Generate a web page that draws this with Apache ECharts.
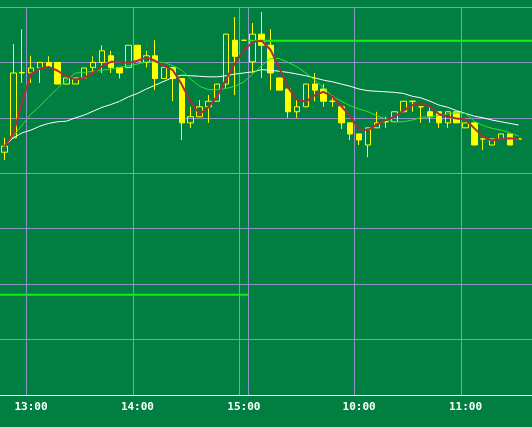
<!DOCTYPE html>
<html>
<head>
<meta charset="utf-8">
<script src="https://cdn.jsdelivr.net/npm/echarts@6/dist/echarts.min.js"></script>
<style>
  html, body { margin: 0; padding: 0; background: #007f40; }
  #chart { width: 532px; height: 427px; }
</style>
</head>
<body>
<div id="chart"></div>
<script>
// 5-minute bars, two sessions
const times = [
  '12:45', '12:50', '12:55', '13:00', '13:05', '13:10', '13:15', '13:20', '13:25', '13:30',
  '13:35', '13:40', '13:45', '13:50', '13:55', '14:00', '14:05', '14:10', '14:15', '14:20',
  '14:25', '14:30', '14:35', '14:40', '14:45', '14:50', '14:55', '15:00',
  '09:00', '09:05', '09:10', '09:15', '09:20', '09:25', '09:30', '09:35', '09:40', '09:45',
  '09:50', '09:55', '10:00', '10:05', '10:10', '10:15', '10:20', '10:25', '10:30', '10:35',
  '10:40', '10:45', '10:50', '10:55', '11:00', '11:05', '11:10', '11:15', '11:20', '11:25',
  '11:30'
]
const labelTimes = ['13:00', '14:00', '15:00', '10:00', '11:00']
const slotCount = 60

// [open, close, low, high]
const candles = [
  [2683.8, 2684.9, 2682.4, 2686.4], [2686.4, 2698.1, 2686.4, 2703.3], [2698.1, 2698.2, 2696.3, 2706.0],
  [2698.1, 2699.0, 2696.3, 2701.2], [2699.0, 2700.0, 2696.3, 2700.0], [2700.0, 2699.1, 2699.1, 2701.1],
  [2700.0, 2696.1, 2696.1, 2700.0], [2696.1, 2697.2, 2696.1, 2697.2], [2696.1, 2697.2, 2696.1, 2697.2],
  [2697.2, 2699.0, 2697.2, 2699.0], [2699.1, 2700.0, 2698.1, 2701.1], [2700.0, 2702.1, 2698.1, 2703.1],
  [2701.2, 2699.1, 2698.1, 2702.1], [2699.1, 2698.1, 2697.1, 2699.1], [2699.1, 2703.1, 2699.1, 2703.1],
  [2703.1, 2700.2, 2700.2, 2703.1], [2700.0, 2701.2, 2699.1, 2702.1], [2701.2, 2697.1, 2695.0, 2704.0],
  [2697.1, 2699.1, 2697.1, 2699.1], [2699.1, 2697.1, 2693.0, 2699.1], [2697.1, 2689.1, 2686.0, 2697.1],
  [2689.1, 2690.2, 2688.2, 2692.0], [2690.2, 2692.0, 2690.2, 2693.2], [2692.0, 2693.0, 2689.1, 2694.1],
  [2693.0, 2696.1, 2693.0, 2696.1], [2696.1, 2705.1, 2695.4, 2705.1], [2704.0, 2701.1, 2694.1, 2708.2],
  [2704.0, 2704.0, 2704.0, 2704.0],
  [2700.1, 2705.1, 2698.1, 2707.1], [2705.1, 2703.1, 2697.2, 2709.1], [2703.1, 2698.1, 2695.0, 2706.0],
  [2697.2, 2695.0, 2695.0, 2697.2], [2695.2, 2691.1, 2690.0, 2695.2], [2691.1, 2692.0, 2690.0, 2693.2],
  [2692.0, 2696.1, 2692.0, 2696.1], [2696.1, 2695.0, 2693.0, 2698.1], [2695.2, 2693.0, 2692.0, 2696.1],
  [2693.0, 2693.0, 2692.0, 2694.1], [2692.0, 2689.1, 2688.0, 2692.0], [2689.1, 2687.1, 2686.0, 2689.1],
  [2687.1, 2686.0, 2685.1, 2687.1], [2685.1, 2688.2, 2682.9, 2688.2], [2688.2, 2689.1, 2688.2, 2691.1],
  [2689.3, 2689.3, 2688.2, 2690.2], [2689.3, 2691.1, 2689.3, 2691.1], [2691.1, 2693.0, 2691.1, 2693.0],
  [2693.0, 2693.0, 2691.1, 2693.0], [2692.0, 2692.0, 2689.1, 2692.0], [2691.1, 2690.2, 2689.1, 2692.0],
  [2691.1, 2689.1, 2688.2, 2691.1], [2689.1, 2691.1, 2688.2, 2691.1], [2691.1, 2689.1, 2689.1, 2691.1],
  [2688.2, 2689.1, 2688.2, 2689.1], [2689.1, 2685.1, 2685.1, 2689.1], [2686.2, 2686.2, 2684.2, 2686.2],
  [2685.1, 2686.2, 2685.1, 2686.2], [2686.2, 2687.1, 2686.2, 2687.1], [2687.1, 2685.1, 2685.1, 2687.1],
  [2686.2, 2686.2, 2686.2, 2686.2]
]

const maFast = [
  2684.8, 2687.1, 2692.9, 2697.9, 2698.9, 2699.2, 2698.5, 2697.5, 2696.9, 2697.2,
  2698.1, 2699.3, 2700.1, 2700.1, 2699.9, 2700.3, 2700.9, 2700.3, 2699.4, 2698.6,
  2696.0, 2692.9, 2690.7, 2691.9, 2693.9, 2697.0, 2699.8, 2702.2, 2703.7, 2703.9,
  2702.3, 2699.0, 2695.4, 2693.3, 2692.9, 2694.1, 2694.7, 2693.8, 2692.1, 2690.3,
  2687.9, 2687.8, 2688.8, 2689.6, 2690.2, 2691.3, 2692.3, 2692.7, 2692.0, 2690.7,
  2690.2, 2689.9, 2689.7, 2688.1, 2686.6, 2685.9, 2686.2, 2686.3, 2686.2
]
const maMid = [
  2684.9, 2686.7, 2688.7, 2690.7, 2692.1, 2693.8, 2695.3, 2696.8, 2698.1, 2698.2,
  2698.4, 2698.6, 2698.8, 2699.1, 2699.4, 2699.7, 2700.1, 2700.1, 2700.0, 2699.4,
  2698.6, 2697.0, 2695.7, 2695.1, 2695.1, 2695.3, 2695.7, 2696.5, 2697.9, 2699.4,
  2700.7, 2700.7, 2700.0, 2699.2, 2698.1, 2696.8, 2695.4, 2693.9, 2693.0, 2692.2,
  2691.6, 2691.1, 2690.4, 2689.8, 2689.3, 2689.3, 2689.6, 2690.1, 2690.2, 2690.4,
  2690.7, 2690.9, 2690.8, 2689.4, 2688.6, 2688.1, 2687.8, 2687.3, 2686.7
]
const maSlow = [
  2684.9, 2686.4, 2687.3, 2687.8, 2688.5, 2689.0, 2689.3, 2689.4, 2690.0, 2690.5,
  2691.2, 2691.9, 2692.4, 2693.0, 2693.8, 2694.4, 2695.2, 2695.9, 2696.6, 2697.3,
  2697.7, 2697.6, 2697.5, 2697.4, 2697.4, 2697.6, 2697.9, 2698.1, 2698.3, 2698.7,
  2698.6, 2698.4, 2698.2, 2697.9, 2697.6, 2697.2, 2696.8, 2696.5, 2696.1, 2695.7,
  2695.2, 2694.9, 2694.8, 2694.7, 2694.6, 2694.4, 2693.9, 2693.6, 2693.0, 2692.3,
  2691.9, 2691.3, 2690.8, 2690.3, 2690.0, 2689.6, 2689.3, 2689.0, 2688.7
]

// reference levels: [price, fromSlot, toSlot]
const prevLow = [2658.1, 0, 28]
const prevHigh = [2703.9, 28, 60]

const gridColor = '#8a96c8'
const levelColor = '#14ee14'

const chart = echarts.init(document.getElementById('chart'))

const levelSeries = lvl => ({
  type: 'line',
  xAxisIndex: 1,
  data: [[lvl[1], lvl[0]], [lvl[2], lvl[0]]],
  showSymbol: false,
  silent: true,
  lineStyle: { color: levelColor, width: 2 }
})

const maSeries = (data, color, width) => ({
  type: 'line',
  data: data,
  showSymbol: false,
  silent: true,
  lineStyle: { color: color, width: width }
})

chart.setOption({
  animation: false,
  backgroundColor: '#007f40',
  grid: { left: 0, right: 0, top: 7, bottom: 32 },
  xAxis: [{
    type: 'category',
    data: times,
    max: slotCount - 1,
    boundaryGap: true,
    axisLine: { lineStyle: { color: '#ffffff', width: 1 } },
    axisTick: { show: false },
    axisLabel: {
      color: '#ffffff',
      fontFamily: 'DejaVu Sans Mono',
      fontWeight: 'bold',
      fontSize: 11,
      margin: 7,
      interval: (i, v) => labelTimes.includes(v)
    },
    splitLine: {
      show: true,
      interval: (i, v) => !!v && v.endsWith(':00'),
      lineStyle: { color: gridColor, width: 1 }
    }
  }, {
    type: 'value',
    min: 0,
    max: slotCount,
    show: false
  }],
  yAxis: {
    type: 'value',
    min: 2640,
    max: 2710,
    interval: 10,
    axisLine: { show: false },
    axisTick: { show: false },
    axisLabel: { show: false },
    splitLine: { lineStyle: { color: gridColor, width: 1 } }
  },
  series: [
    levelSeries(prevLow),
    levelSeries(prevHigh),
    {
      type: 'candlestick',
      data: candles,
      barWidth: 6,
      silent: true,
      itemStyle: {
        color: 'transparent',
        color0: '#ffff00',
        borderColor: '#ffff00',
        borderColor0: '#ffff00',
        borderColorDoji: '#ffff00',
        borderWidth: 1
      }
    },
    maSeries(maSlow, '#ffffff', 1),
    maSeries(maMid, '#2ae62a', 1),
    maSeries(maFast, '#a8303c', 2)
  ]
})
</script>
</body>
</html>
